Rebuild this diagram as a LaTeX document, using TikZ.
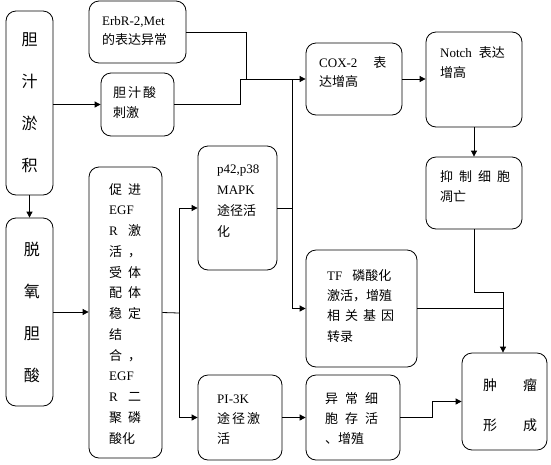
\documentclass[tikz,border=0pt]{standalone}
\usepackage{fontspec}
\setmainfont{Liberation Serif}
\newfontfamily\cjk{Noto Sans CJK SC}
\usetikzlibrary{arrows.meta,positioning,calc}
\newcommand\en[1]{{\rmfamily #1}}
\newcommand\cell[2][19pt]{\makebox[#1][l]{#2}}

\begin{document}
\begin{tikzpicture}[x=1pt,y=-1pt,
  font=\cjk\fontsize{13}{20}\selectfont,
  box/.style={draw,rounded corners=10pt,line width=0.8pt,inner sep=0pt},
  txt/.style={anchor=base west,inner sep=0pt,align=left},
  link/.style={line width=0.8pt},
  arr/.style={link,-{Triangle[length=6pt,width=6pt]}}]
  \useasboundingbox[fill=white] (0,0) rectangle (551,464);
  % left column
  \node[box,minimum width=47pt,minimum height=184pt,align=center,
    font=\cjk\fontsize{16}{42}\selectfont] (bile) at (29.5,103) {胆\\汁\\淤\\积};
  \node[box,minimum width=47pt,minimum height=188pt,align=center,
    font=\cjk\fontsize{16}{42}\selectfont] (deoxy) at (29.5,312) {\hspace{5pt}脱\\\hspace{5pt}氧\\\hspace{5pt}胆\\\hspace{5pt}酸};
  % upper branch (text nodes sit on the baseline of their last line)
  \node[box,minimum width=97pt,minimum height=62pt] (erbb) at (137.5,32) {};
  \node[txt,font=\cjk\fontsize{13}{19}\selectfont] (erbbT) at (102,44) {\en{ErbR-2,Met}\\的表达异常};
  \node[box,minimum width=73pt,minimum height=63pt] (acid) at (137.5,104.5) {};
  \node[txt] (acidT) at (113,117) {\cell[15pt]{胆}\cell[15pt]{汁}酸\\刺激};
  \node[box,minimum width=96pt,minimum height=72pt] (cox) at (354,79) {};
  \node[txt,font=\cjk\fontsize{13}{19}\selectfont] (coxT) at (319,86) {\en{COX-2}\hspace{16pt}表\\达增高};
  \node[box,minimum width=96pt,minimum height=95pt] (notch) at (474,79.5) {};
  \node[txt] (notchT) at (440,77) {\en{Notch}\hspace{7pt}表达\\增高};
  \node[box,minimum width=96pt,minimum height=72pt] (apop) at (474,193) {};
  \node[txt] (apopT) at (440,201) {\cell{抑}\cell{制}\cell{细}胞\\凋亡};
  % middle
  \node[box,minimum width=73pt,minimum height=291pt] (egfr) at (125.5,312.5) {};
  \node[txt,font=\cjk\fontsize{13}{20.75}\selectfont] (egfrT) at (109,443)
    {\cell{促}进\\\en{EGF}\\\cell{\en{R}}激\\\cell{活}，\\\cell{受}体\\\cell{配}体\\\cell{稳}定\\结\\\cell{合}，\\\en{EGF}\\\cell{\en{R}}二\\\cell{聚}磷\\酸化};
  \node[box,minimum width=79pt,minimum height=124pt] (mapk) at (237.5,208) {};
  \node[txt,font=\cjk\fontsize{13}{20.7}\selectfont] (mapkT) at (217,236) {\en{p42,p38}\\\en{MAPK}\\途径活\\化};
  \node[box,minimum width=111pt,minimum height=117pt] (tf) at (361.5,308.5) {};
  \node[txt,font=\cjk\fontsize{13}{20.3}\selectfont] (tfT) at (327,341)
    {\en{TF}\hspace{10pt}磷酸化\\激活，增殖\\\cell[18pt]{相}\cell[18pt]{关}\cell[18pt]{基}因\\转录};
  % lower branch
  \node[box,minimum width=84pt,minimum height=85pt] (pi3k) at (240,417.5) {};
  \node[txt] (pi3kT) at (217,443) {\en{PI-3K}\\\cell[15pt]{途}\cell[15pt]{径}激\\活};
  \node[box,minimum width=94pt,minimum height=85pt] (surv) at (353,417.5) {};
  \node[txt] (survT) at (325,443) {\cell[20pt]{异}\cell[20pt]{常}细\\\cell[20pt]{胞}\cell[20pt]{存}活\\、增殖};
  \node[box,minimum width=85pt,minimum height=97pt] (tumor) at (504.5,401.5) {};
  \node[txt,font=\cjk\fontsize{14}{40}\selectfont] (tumorT) at (483,430) {\cell[40pt]{肿}瘤\\\cell[40pt]{形}成};
  % junctions
  \coordinate (jA) at (246,79);
  \coordinate (jB) at (240,79);
  \coordinate (jC) at (292,79);
  \coordinate (jE) at (503,292);
  \coordinate (jF) at (179,313);
  % connectors
  \draw[arr] (bile.south) -- (deoxy.north);
  \draw[arr] (acid.west -| bile.east) -- (acid.west);
  \draw[link] (erbb.east) -| (jA);
  \draw[link] (acid.east) -| (jB);
  \draw[arr] (jB) -- (cox.west);
  \draw[arr] (cox.east) -- (cox.east -| notch.west);
  \draw[arr] (notch.south) -- (apop.north);
  \draw[link] (apop.south) |- (jE);
  \draw[arr] (jE) -- (jE |- tumor.north);
  \draw[link] (tf.east) -- (tf.east -| jE);
  \draw[arr] (deoxy.east) -- (deoxy.east -| egfr.west);
  \draw[link] (egfr.east) -- (jF);
  \draw[arr] (jF) |- (mapk.west);
  \draw[arr] (jF) |- (pi3k.west);
  \draw[link] (mapk.east) -- (mapk.east -| jC);
  \draw[arr] (jC) |- (tf.west);
  \draw[arr] (pi3k.east) -- (surv.west);
  \draw[arr] (surv.east) -- ++(32,0) |- (tumor.west);
\end{tikzpicture}
\end{document}
